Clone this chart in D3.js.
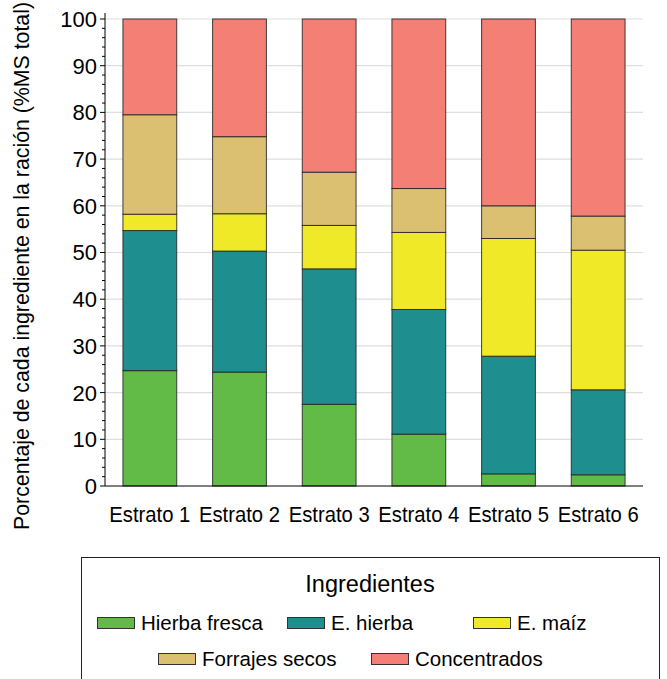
<!DOCTYPE html>
<html>
<head>
<meta charset="utf-8">
<script src="https://cdn.jsdelivr.net/npm/d3@7"></script>
<style>
  body { margin: 0; background: #fff; }
  svg { display: block; font-family: "Liberation Sans", Arial, sans-serif; }
</style>
</head>
<body>
<svg id="chart" width="667" height="679"></svg>
<script>
const categories = ["Estrato 1", "Estrato 2", "Estrato 3", "Estrato 4", "Estrato 5", "Estrato 6"];
const seriesNames = ["Hierba fresca", "E. hierba", "E. maíz", "Forrajes secos", "Concentrados"];
const hierbaFresca  = [24.7, 24.4, 17.5, 11.1, 2.6, 2.4];
const eHierba       = [30.0, 25.9, 29.0, 26.7, 25.2, 18.2];
const eMaiz         = [3.5, 8.0, 9.3, 16.5, 25.2, 29.9];
const forrajesSecos = [21.3, 16.5, 11.4, 9.4, 7.0, 7.3];
const concentrados  = [20.5, 25.2, 32.8, 36.3, 40.0, 42.2];
const yTicks = [0, 10, 20, 30, 40, 50, 60, 70, 80, 90, 100];
const colors = ["#62bb47", "#1e8f8e", "#efe927", "#dcc071", "#f47f75"];

const seriesValues = [hierbaFresca, eHierba, eMaiz, forrajesSecos, concentrados];
const table = categories.map((c, i) => {
  const row = { cat: c };
  seriesNames.forEach((s, k) => row[s] = seriesValues[k][i]);
  return row;
});

const svg = d3.select("#chart");
const m = { left: 105, right: 643, top: 19, bottom: 486 };

const x = d3.scaleBand().domain(categories).range([m.left, m.right]).paddingInner(0.4).paddingOuter(0.2);
const y = d3.scaleLinear().domain([0, 100]).range([m.bottom, m.top]);

// gridlines
svg.append("g").selectAll("line").data(yTicks.filter(d => d > 0)).join("line")
  .attr("x1", m.left).attr("x2", m.right)
  .attr("y1", d => y(d)).attr("y2", d => y(d))
  .attr("stroke", "#dedede").attr("stroke-width", 1.2);

// stacked bars
const stack = d3.stack().keys(seriesNames)(table);
svg.append("g").selectAll("g").data(stack).join("g")
  .attr("fill", (d, i) => colors[i])
  .selectAll("rect").data(d => d).join("rect")
  .attr("x", d => x(d.data.cat))
  .attr("width", x.bandwidth())
  .attr("y", d => y(d[1]))
  .attr("height", d => y(d[0]) - y(d[1]))
  .attr("stroke", "#222").attr("stroke-opacity", 0.85).attr("stroke-width", 1);

// y axis
const yAxis = svg.append("g").attr("transform", `translate(${m.left},0)`);
yAxis.append("line").attr("x1", 0).attr("x2", 0).attr("y1", 13).attr("y2", m.bottom).attr("stroke", "#000");
const minor = d3.range(0, 101, 2).filter(d => d % 10 !== 0);
yAxis.selectAll(".minor").data(minor).join("line").attr("class", "minor")
  .attr("x1", -3).attr("x2", 0).attr("y1", d => y(d)).attr("y2", d => y(d)).attr("stroke", "#000");
yAxis.selectAll(".major").data(yTicks).join("line").attr("class", "major")
  .attr("x1", -5).attr("x2", 0).attr("y1", d => y(d)).attr("y2", d => y(d)).attr("stroke", "#000");
yAxis.selectAll("text").data(yTicks).join("text")
  .attr("x", -8).attr("y", d => y(d)).attr("dy", "0.36em")
  .attr("text-anchor", "end").attr("font-size", 22).attr("fill", "#000")
  .text(d => d);

// x axis
svg.append("line").attr("x1", m.left).attr("x2", m.right).attr("y1", m.bottom).attr("y2", m.bottom).attr("stroke", "#000");
svg.append("g").selectAll("text").data(categories).join("text")
  .attr("x", d => x(d) + x.bandwidth() / 2).attr("y", 522)
  .attr("text-anchor", "middle").attr("font-size", 22)
  .attr("textLength", 81).attr("lengthAdjust", "spacingAndGlyphs")
  .text(d => d);

// y title
svg.append("text")
  .attr("transform", "translate(29,266) rotate(-90)")
  .attr("text-anchor", "middle").attr("font-size", 21.3)
  .text("Porcentaje de cada ingrediente en la ración (%MS total)");

// legend
const lg = svg.append("g");
lg.append("rect").attr("x", 81.5).attr("y", 557.5).attr("width", 578).attr("height", 140)
  .attr("fill", "#fff").attr("stroke", "#222").attr("stroke-width", 1);
lg.append("text").attr("x", 370).attr("y", 592).attr("text-anchor", "middle")
  .attr("font-size", 23.5).text("Ingredientes");
const legendPos = [[97, 623], [287, 623], [473, 623], [158, 659], [371, 659]];
seriesNames.forEach((s, i) => {
  const [lx, ly] = legendPos[i];
  lg.append("rect").attr("x", lx + 0.5).attr("y", ly - 5.5).attr("width", 37).attr("height", 11)
    .attr("fill", colors[i]).attr("stroke", "#333").attr("stroke-width", 1);
  lg.append("text").attr("x", lx + 44).attr("y", ly).attr("dy", "0.35em")
    .attr("font-size", 20.5).text(s);
});
</script>
</body>
</html>
